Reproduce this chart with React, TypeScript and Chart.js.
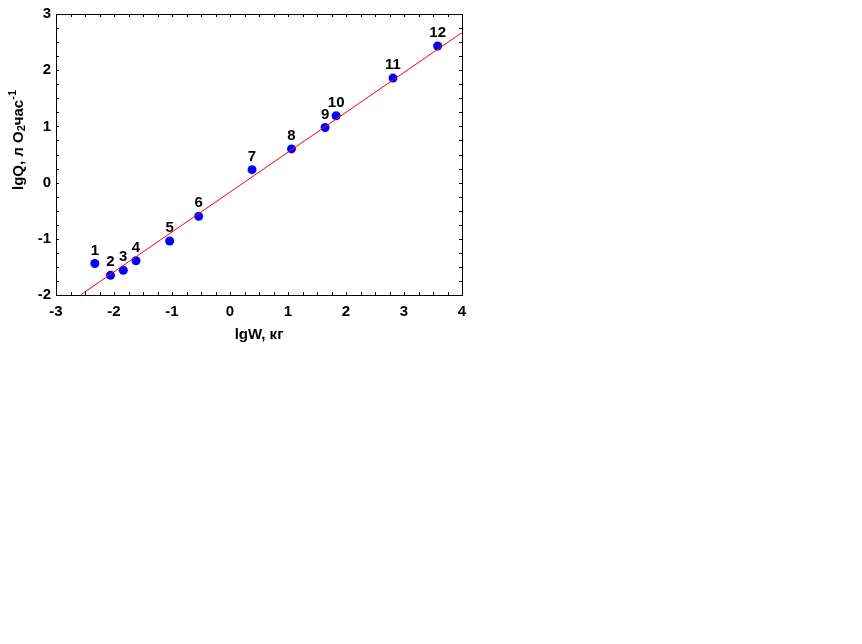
import React, { useEffect, useRef } from "react";
import { Chart, registerables } from "chart.js";

Chart.register(...registerables);

const pointLabels = ["1", "2", "3", "4", "5", "6", "7", "8", "9", "10", "11", "12"];
const lgW = [-2.33, -2.06, -1.84, -1.62, -1.04, -0.54, 0.38, 1.06, 1.64, 1.83, 2.81, 3.58];
const lgQ = [-1.44, -1.65, -1.56, -1.39, -1.04, -0.6, 0.23, 0.6, 0.98, 1.19, 1.86, 2.43];
const fitX = [-2.58, 4];
const fitY = [-2, 2.67];
const xTicks = [-3, -2, -1, 0, 1, 2, 3, 4];
const yTicks = [-2, -1, 0, 1, 2, 3];
const xTitle = "lgW, кг";

const FONT = "Arial, 'Liberation Sans', sans-serif";

const decorPlugin = {
  id: "decor",
  afterDraw(chart: any) {
    const ctx = chart.ctx;
    const { left, right, top, bottom } = chart.chartArea;
    const xs = chart.scales.x;
    const ys = chart.scales.y;
    ctx.save();
    ctx.strokeStyle = "#000";
    ctx.lineWidth = 1;
    ctx.strokeRect(Math.round(left) + 0.5, Math.round(top) + 0.5, Math.round(right - left), Math.round(bottom - top));
    ctx.beginPath();
    for (let v = xs.min; v <= xs.max + 1e-9; v += 0.25) {
      const px = Math.round(xs.getPixelForValue(v)) + 0.5;
      ctx.moveTo(px, bottom);
      ctx.lineTo(px, bottom - 3);
      ctx.moveTo(px, top);
      ctx.lineTo(px, top + 3);
    }
    for (let v = ys.min; v <= ys.max + 1e-9; v += 0.25) {
      const py = Math.round(ys.getPixelForValue(v)) + 0.5;
      ctx.moveTo(left, py);
      ctx.lineTo(left + 3, py);
      ctx.moveTo(right, py);
      ctx.lineTo(right - 3, py);
    }
    ctx.stroke();

    const meta = chart.getDatasetMeta(1);
    ctx.fillStyle = "#000";
    ctx.font = "bold 15px " + FONT;
    ctx.textAlign = "center";
    ctx.textBaseline = "middle";
    meta.data.forEach((el: any, i: number) => {
      ctx.fillText(pointLabels[i], el.x, el.y - 13);
    });

    ctx.fillText(xTitle, (left + right) / 2, 335);

    const big = "bold 15px " + FONT;
    const small = "bold 11px " + FONT;
    const parts = [
      { t: "lgQ, л O", f: big, dy: 0 },
      { t: "2", f: small, dy: 3 },
      { t: "час", f: big, dy: 0 },
      { t: "-1", f: small, dy: -6 },
    ];
    let total = 0;
    parts.forEach((p) => {
      ctx.font = p.f;
      total += ctx.measureText(p.t).width;
    });
    ctx.translate(19, 140);
    ctx.rotate(-Math.PI / 2);
    ctx.textAlign = "left";
    let x = -total / 2;
    parts.forEach((p) => {
      ctx.font = p.f;
      ctx.fillText(p.t, x, p.dy);
      x += ctx.measureText(p.t).width;
    });
    ctx.restore();
  },
};

export default function App() {
  const ref = useRef<HTMLCanvasElement>(null);
  useEffect(() => {
    document.body.style.margin = "0";
    const canvas = ref.current!;
    const chart = new Chart(canvas, {
      type: "scatter",
      data: {
        datasets: [
          {
            type: "line",
            data: fitX.map((x, i) => ({ x, y: fitY[i] })),
            borderColor: "#ff0000",
            borderWidth: 1,
            pointRadius: 0,
            fill: false,
          } as any,
          {
            data: lgW.map((x, i) => ({ x, y: lgQ[i] })),
            backgroundColor: "#0000ff",
            borderColor: "#0000ff",
            pointRadius: 4.5,
            borderWidth: 0,
          },
        ],
      },
      options: {
        responsive: false,
        animation: false,
        layout: { padding: { left: 0, top: 12, right: 400, bottom: 309 } },
        plugins: { legend: { display: false }, tooltip: { enabled: false } },
        scales: {
          x: {
            type: "linear",
            min: -3,
            max: 4,
            afterBuildTicks: (s: any) => {
              s.ticks = xTicks.map((v) => ({ value: v }));
            },
            afterFit: (s: any) => {
              s.height = 40;
            },
            grid: { display: false, drawTicks: false },
            border: { display: false },
            ticks: {
              color: "#000",
              font: { family: FONT, size: 15, weight: "bold" },
              padding: 8,
              maxRotation: 0,
            },
          },
          y: {
            type: "linear",
            min: -2,
            max: 3,
            afterBuildTicks: (s: any) => {
              s.ticks = yTicks.map((v) => ({ value: v }));
            },
            afterFit: (s: any) => {
              s.width = 56;
            },
            grid: { display: false, drawTicks: false },
            border: { display: false },
            ticks: {
              color: "#000",
              font: { family: FONT, size: 15, weight: "bold" },
              padding: 5,
            },
          },
        },
      },
      plugins: [decorPlugin],
    } as any);
    return () => chart.destroy();
  }, []);
  return <canvas ref={ref} width={862} height={644} style={{ display: "block" }} />;
}
